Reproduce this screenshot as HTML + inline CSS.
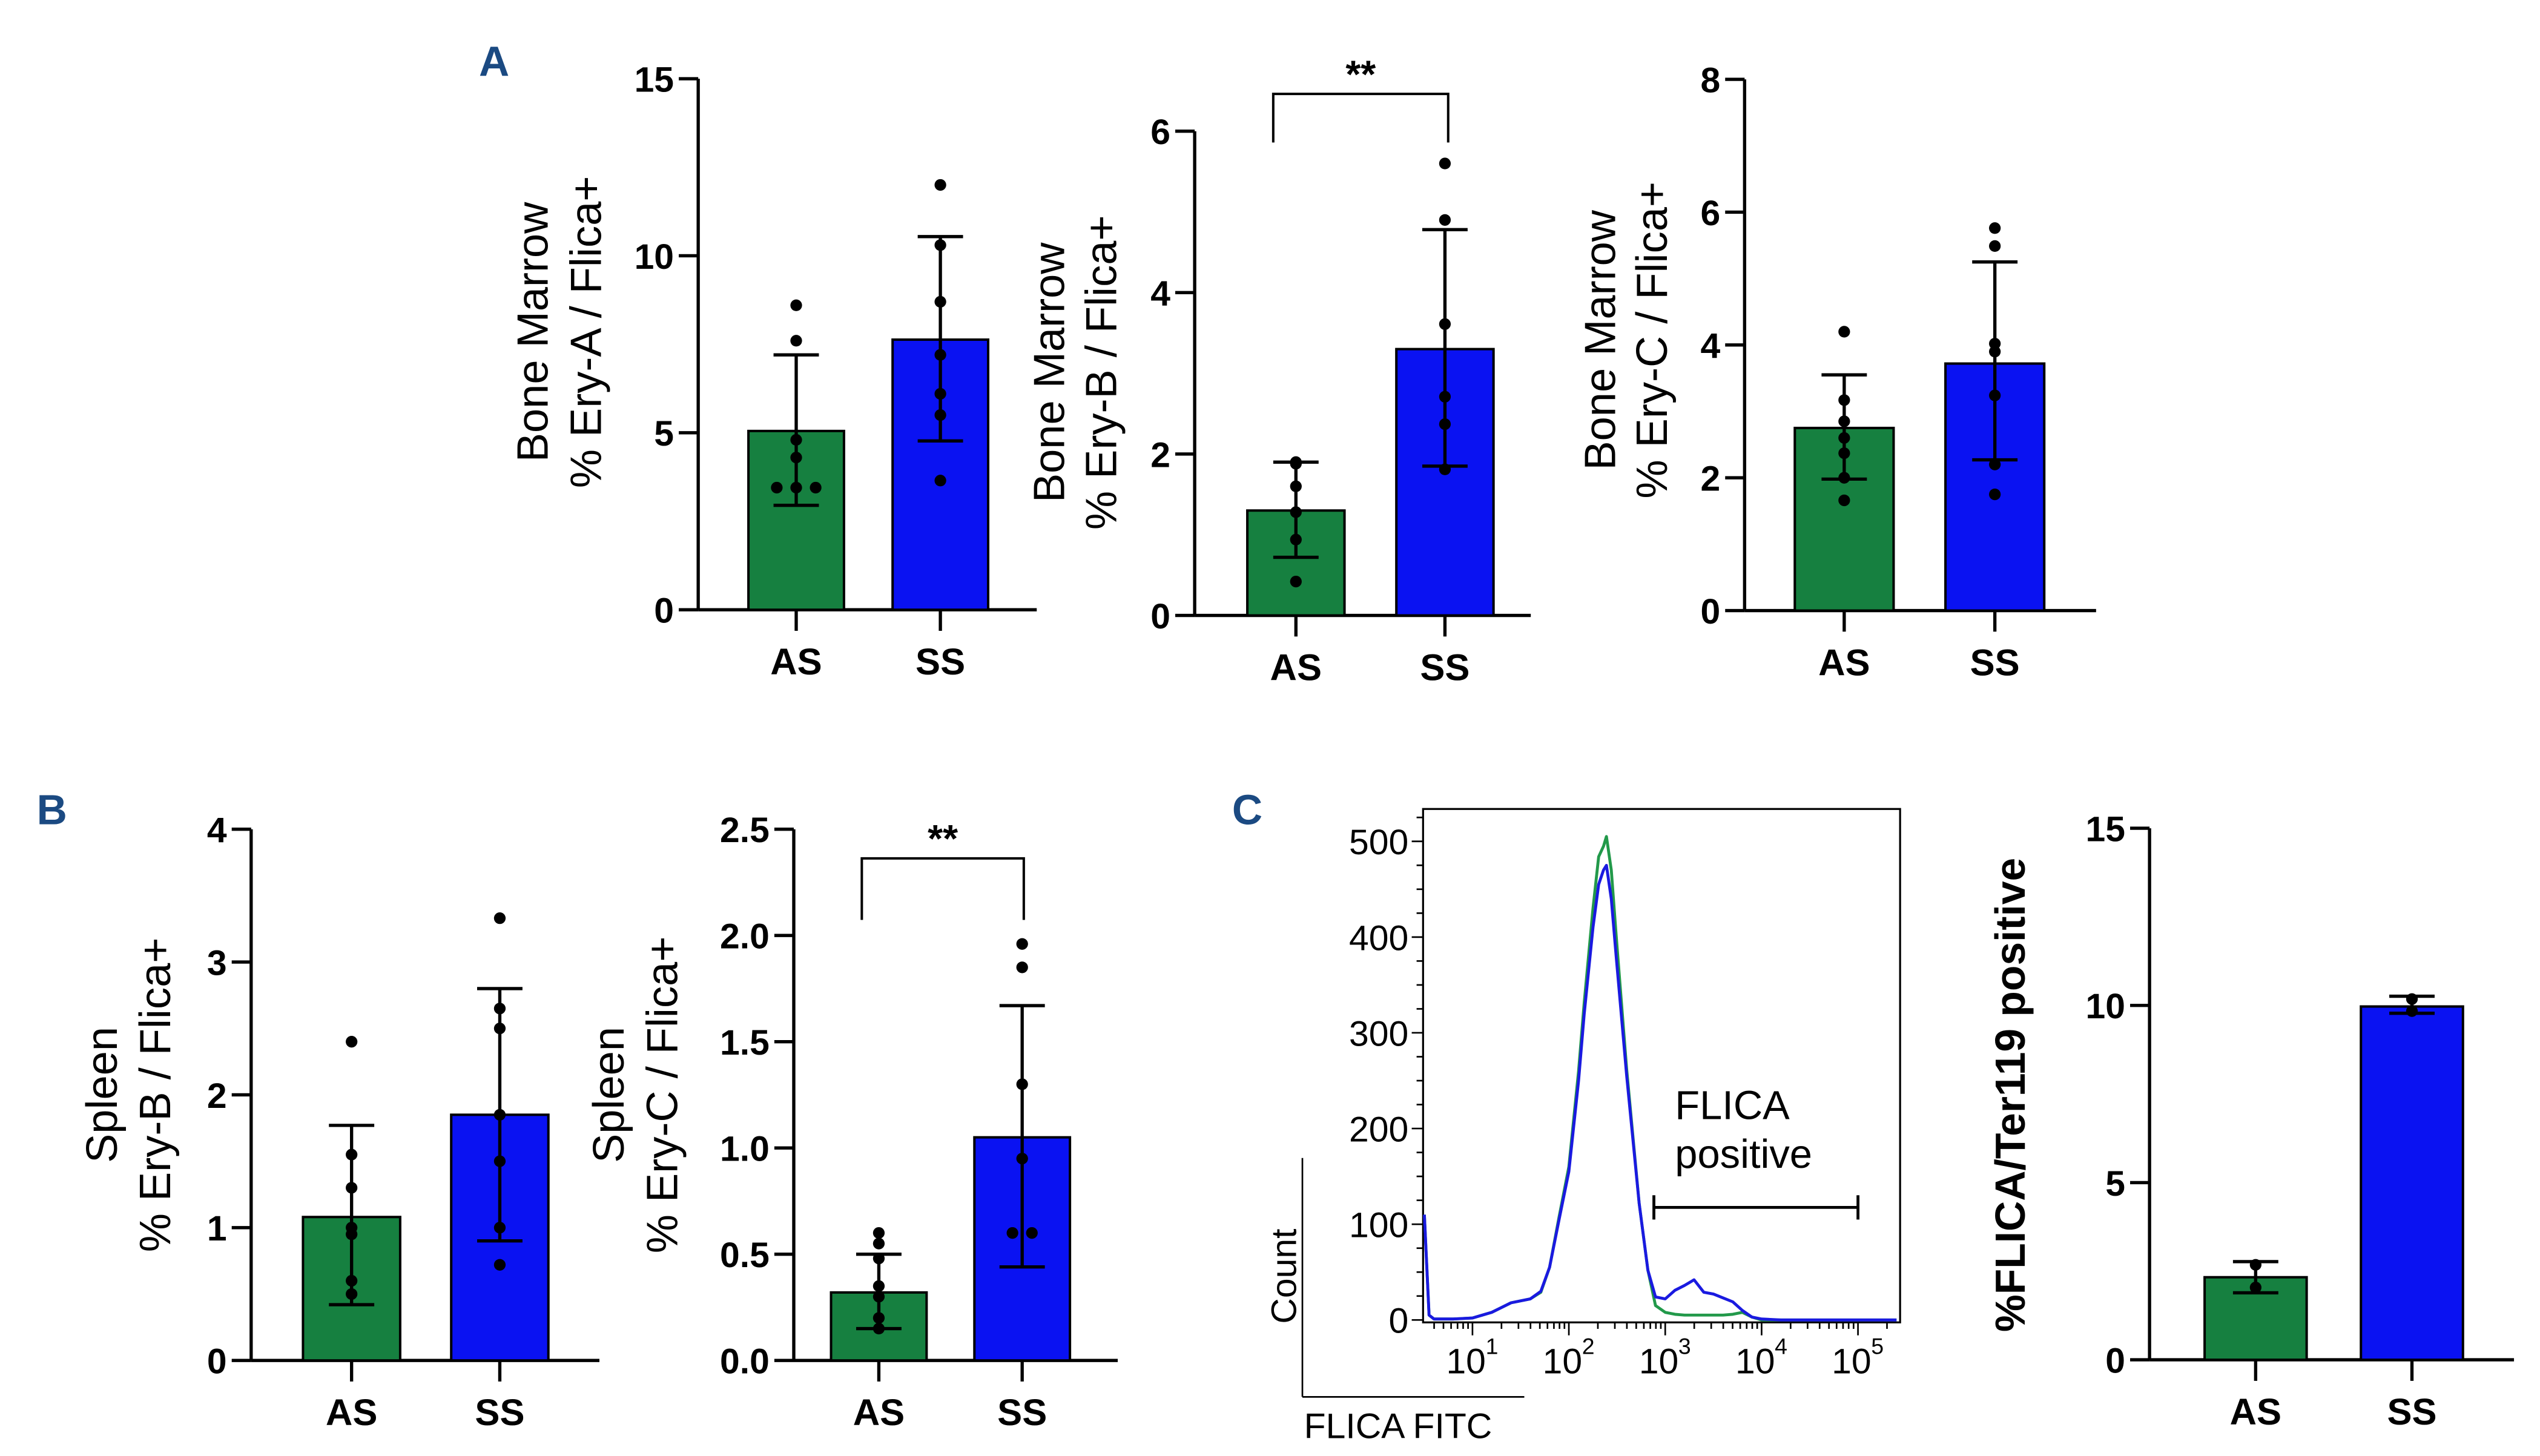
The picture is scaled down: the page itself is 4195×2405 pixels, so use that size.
<!DOCTYPE html>
<html><head><meta charset="utf-8"><style>
html,body{margin:0;padding:0;background:#fff;}
svg{display:block;}
text{font-family:"Liberation Sans",Arial,sans-serif;}
</style></head><body>
<svg id="fig" width="4195" height="2405" viewBox="0 0 1568 899" xmlns="http://www.w3.org/2000/svg">
<rect width="1568" height="899" fill="#fff"/>
<text x="305" y="47" font-size="26" font-weight="bold" fill="#1b4a82" text-anchor="middle">A</text>
<text x="32" y="509" font-size="26" font-weight="bold" fill="#1b4a82" text-anchor="middle">B</text>
<text x="770" y="509" font-size="26" font-weight="bold" fill="#1b4a82" text-anchor="middle">C</text>
<g id="charts"></g>
</svg>
<script>
// ---- data ----
const categories = ["AS","SS"];
// A1 Ery-A
const a1Means = [5.05, 7.63];
const a1ErrHi = [7.2, 10.54];
const a1ErrLo = [2.95, 4.77];
const a1DotsAS = [8.6, 7.6, 4.8, 4.3, 3.45, 3.45, 3.45];
const a1DotsSS = [12.0, 10.3, 8.7, 7.2, 6.1, 5.5, 3.65];
const a1Ticks = ["0","5","10","15"];
// A2 Ery-B
const a2Means = [1.3, 3.3];
const a2ErrHi = [1.9, 4.78];
const a2ErrLo = [0.72, 1.85];
const a2DotsAS = [1.9, 1.88, 1.6, 1.28, 0.94, 0.42];
const a2DotsSS = [5.6, 4.9, 3.61, 2.71, 2.37, 1.81];
const a2Ticks = ["0","2","4","6"];
// A3 Ery-C
const a3Means = [2.75, 3.72];
const a3ErrHi = [3.55, 5.25];
const a3ErrLo = [1.98, 2.27];
const a3DotsAS = [4.2, 3.17, 2.85, 2.6, 2.37, 2.0, 1.66];
const a3DotsSS = [5.76, 5.49, 4.02, 3.9, 3.24, 2.2, 1.75];
const a3Ticks = ["0","2","4","6","8"];
// B1 Spleen Ery-B
const b1Means = [1.08, 1.85];
const b1ErrHi = [1.77, 2.8];
const b1ErrLo = [0.42, 0.9];
const b1DotsAS = [2.4, 1.55, 1.3, 1.0, 0.95, 0.6, 0.5];
const b1DotsSS = [3.33, 2.65, 2.5, 1.85, 1.5, 1.0, 0.72];
const b1Ticks = ["0","1","2","3","4"];
// B2 Spleen Ery-C
const b2Means = [0.32, 1.05];
const b2ErrHi = [0.5, 1.67];
const b2ErrLo = [0.15, 0.44];
const b2DotsAS = [0.6, 0.55, 0.48, 0.35, 0.3, 0.2, 0.15];
const b2DotsSS = [1.96, 1.85, 1.3, 0.95, 0.6, 0.6];
const b2Ticks = ["0.0","0.5","1.0","1.5","2.0","2.5"];
// C bar
const cMeans = [2.33, 9.97];
const cErrHi = [2.77, 10.26];
const cErrLo = [1.89, 9.78];
const cDotsAS = [2.68, 2.04];
const cDotsSS = [10.18, 9.84];
const cTicks = ["0","5","10","15"];
// C histogram (log10 FITC, count)
const histLog = [0.5,0.55,0.6,0.8,1.0,1.2,1.4,1.6,1.71,1.8,1.9,2.0,2.1,2.16,2.25,2.31,2.36,2.39,2.44,2.49,2.6,2.73,2.82,2.9,3.0,3.1,3.2,3.3,3.4,3.5,3.6,3.7,3.8,3.9,4.0,4.2,4.6,5.0,5.4];
const greenCounts = [110,5,1,1,2,8,18,22,29,55,108,160,260,332,430,484,495,505,470,402,262,122,52,15,8,6,5,5,5,5,5,6,8,3,0,0,0,0,0];
const blueCounts  = [110,5,1,1,2,8,18,22,30,55,105,155,250,320,410,455,470,475,440,380,255,122,52,24,22,31,36,42,29,27,23,19,10,3,1,0,0,0,0];
const histYTicks = ["0","100","200","300","400","500"];
const histXExp = [1,2,3,4,5];

const NS="http://www.w3.org/2000/svg";
const root=document.getElementById('charts');
function el(tag,attrs,parent){const e=document.createElementNS(NS,tag);for(const k in attrs)e.setAttribute(k,attrs[k]);(parent||root).appendChild(e);return e;}
const GREEN="#168040", BLUE="#0a12f2";

function barChart(name,o){
  const g=el('g',{});
  
  
  const ymax=parseFloat(o.ticks[o.ticks.length-1]);
  const y=v=>o.y0-(o.y0-o.yTop)*v/ymax;
  const ax=el('line',{x1:o.ax,y1:o.yTop,x2:o.ax,y2:o.y0,stroke:'#000','stroke-width':2},g);
  
  
  const xa=el('line',{x1:o.ax,y1:o.y0,x2:o.axEnd,y2:o.y0,stroke:'#000','stroke-width':2},g);
  
  
  o.ticks.forEach(t=>{
    const v=parseFloat(t),yy=y(v);
    el('line',{x1:o.ax-12,y1:yy,x2:o.ax,y2:yy,stroke:'#000','stroke-width':2},g);
    const tx=el('text',{x:o.ax-15,y:yy+8,'font-size':22,'font-weight':'bold','text-anchor':'end'},g);
    tx.textContent=t;
    
    
  });
  const colors=[GREEN,BLUE];
  const dots=[o.dotsAS,o.dotsSS];
  categories.forEach((c,i)=>{
    const cx=o.cx[i];
    el('line',{x1:cx,y1:o.y0,x2:cx,y2:o.y0+13,stroke:'#000','stroke-width':2},g);
    const lab=el('text',{x:cx,y:o.y0+40,'font-size':23,'font-weight':'bold','text-anchor':'middle'},g);
    lab.textContent=c;
    
    
    const b=el('rect',{x:cx-o.bw/2,y:y(o.means[i]),width:o.bw,height:o.y0-y(o.means[i]),fill:colors[i],stroke:'#000','stroke-width':1.5},g);
    
    
    const eb=el('g',{},g);
    
    
    el('line',{x1:cx,y1:y(o.hi[i]),x2:cx,y2:y(o.lo[i]),stroke:'#000','stroke-width':2},eb);
    el('line',{x1:cx-14,y1:y(o.hi[i]),x2:cx+14,y2:y(o.hi[i]),stroke:'#000','stroke-width':2},eb);
    el('line',{x1:cx-14,y1:y(o.lo[i]),x2:cx+14,y2:y(o.lo[i]),stroke:'#000','stroke-width':2},eb);
    const ds=dots[i]; const seen={};
    ds.forEach(v=>{
      const k=v.toFixed(2); seen[k]=(seen[k]||0)+1;
      const n=ds.filter(w=>w.toFixed(2)===k).length;
      const off=n>1?(seen[k]-1-(n-1)/2)*12:0;
      const d=el('circle',{cx:cx+off,cy:y(v),r:3.6,fill:'#000'},g);
      
      
    });
  });
  if(o.sig){
    const s=el('g',{},g);
    
    
    el('polyline',{points:`${o.sig[0]},${o.sig[3]} ${o.sig[0]},${o.sig[2]} ${o.sig[1]},${o.sig[2]} ${o.sig[1]},${o.sig[3]}`,fill:'none',stroke:'#000','stroke-width':1.5},s);
    const st=el('text',{x:(o.sig[0]+o.sig[1])/2,y:o.sig[2]-4,'font-size':24,'font-weight':'bold','text-anchor':'middle'},s);
    st.textContent='**';
  }
  const lg=el('g',{transform:`rotate(-90)`},g);
  
  
  o.labels.forEach((L,j)=>{
    const t=el('text',{x:-o.labY,y:o.labX[j]+10,'font-size':o.labSize||27,'font-weight':o.labBold?'bold':'normal','text-anchor':'middle'},lg);
    t.textContent=L;
  });
}

barChart('chart-bm-ery-a',{ax:431,axEnd:640,y0:376.5,yTop:48.6,cx:[491.5,580.5],bw:59,ticks:a1Ticks,means:a1Means,hi:a1ErrHi,lo:a1ErrLo,dotsAS:a1DotsAS,dotsSS:a1DotsSS,labels:["Bone Marrow","% Ery-A / Flica+"],labX:[328,361],labY:205});
barChart('chart-bm-ery-b',{ax:737.5,axEnd:945,y0:380,yTop:81,cx:[800,892],bw:60,ticks:a2Ticks,means:a2Means,hi:a2ErrHi,lo:a2ErrLo,dotsAS:a2DotsAS,dotsSS:a2DotsSS,sig:[786,894,58,88],labels:["Bone Marrow","% Ery-B / Flica+"],labX:[647,679],labY:230});
barChart('chart-bm-ery-c',{ax:1077,axEnd:1294,y0:377,yTop:49,cx:[1138.5,1231.5],bw:61,ticks:a3Ticks,means:a3Means,hi:a3ErrHi,lo:a3ErrLo,dotsAS:a3DotsAS,dotsSS:a3DotsSS,labels:["Bone Marrow","% Ery-C / Flica+"],labX:[987,1019],labY:210});
barChart('chart-spleen-ery-b',{ax:155,axEnd:370,y0:840,yTop:512,cx:[217,308.5],bw:60,ticks:b1Ticks,means:b1Means,hi:b1ErrHi,lo:b1ErrLo,dotsAS:b1DotsAS,dotsSS:b1DotsSS,labels:["Spleen","% Ery-B / Flica+"],labX:[62,95],labY:676});
barChart('chart-spleen-ery-c',{ax:490,axEnd:690,y0:840,yTop:512,cx:[542.5,631],bw:59,ticks:b2Ticks,means:b2Means,hi:b2ErrHi,lo:b2ErrLo,dotsAS:b2DotsAS,dotsSS:b2DotsSS,sig:[532,632,530,568],labels:["Spleen","% Ery-C / Flica+"],labX:[375,408],labY:676});
barChart('chart-flica-ter119',{ax:1327,axEnd:1552,y0:839.6,yTop:511.4,cx:[1392.5,1489],bw:63,ticks:cTicks,means:cMeans,hi:cErrHi,lo:cErrLo,dotsAS:cDotsAS,dotsSS:cDotsSS,labels:["%FLICA/Ter119 positive"],labX:[1240],labY:676,labSize:26,labBold:true});

// ---- histogram ----
(function(){
  const g=el('g',{});
  
  
  const L=878.5,R=1173,T=499.5,B=816.5;
  const y0=815,yPer100=59.1;
  const yS=c=>y0-c*yPer100/100;
  const dec0=968.5,decW=59.5;
  const xS=lg=>dec0+(lg-2)*decW;
  const fr=el('rect',{x:L,y:T,width:R-L,height:B-T,fill:'none',stroke:'#000','stroke-width':1.2},g);
  
  
  for(let c=0;c<=525;c+=25){
    const major=c%100===0;
    el('line',{x1:L-(major?7:4),y1:yS(c),x2:L,y2:yS(c),stroke:'#000','stroke-width':1},g);
  }
  histYTicks.forEach(t=>{
    const tx=el('text',{x:L-9,y:yS(+t)+8,'font-size':22,'text-anchor':'end'},g);
    tx.textContent=t;
    
    
  });
  for(let d=0;d<6;d++){for(let m=1;m<10;m++){
    const lg=d+Math.log10(m); const xx=xS(lg);
    if(xx<L||xx>R)continue;
    el('line',{x1:xx,y1:B,x2:xx,y2:B+(m===1?8:4),stroke:'#000','stroke-width':1},g);
  }}
  histXExp.forEach(e=>{
    const t=el('text',{x:xS(e)-4,y:848,'font-size':22,'text-anchor':'middle'},g);
    t.textContent='10';
    
    
    const s=el('text',{x:xS(e)+12,y:836,'font-size':14,'text-anchor':'middle'},g);
    s.textContent=String(e);
  });
  function curve(counts,color,name){
    const pts=histLog.map((lg,i)=>`${xS(lg).toFixed(1)},${yS(counts[i]).toFixed(1)}`).join(' ');
    const p=el('polyline',{points:pts,fill:'none',stroke:color,'stroke-width':1.8,'stroke-linejoin':'round'},g);
    
    
  }
  curve(greenCounts,'#22994a','histogram-as');
  curve(blueCounts,'#1a1ae0','histogram-ss');
  const gate=el('g',{},g);
  
  
  el('line',{x1:1021,y1:745.5,x2:1147,y2:745.5,stroke:'#000','stroke-width':1.8},gate);
  el('line',{x1:1021,y1:738,x2:1021,y2:753,stroke:'#000','stroke-width':1.8},gate);
  el('line',{x1:1147,y1:738,x2:1147,y2:753,stroke:'#000','stroke-width':1.8},gate);
  const t1=el('text',{x:1034,y:691,'font-size':25},g);
  t1.textContent='FLICA';
  
  
  const t2=el('text',{x:1034,y:721,'font-size':25},g);
  t2.textContent='positive';
  el('line',{x1:804,y1:715,x2:804,y2:862.5,stroke:'#000','stroke-width':1},g);
  el('line',{x1:804,y1:862.5,x2:941,y2:862.5,stroke:'#000','stroke-width':1},g);
  const cl=el('text',{x:-788,y:800,'font-size':22,transform:'rotate(-90)','text-anchor':'middle'},g);
  cl.textContent='Count';
  
  
  const fl=el('text',{x:805,y:888,'font-size':22},g);
  fl.textContent='FLICA FITC';
  
  
})();
</script>
</body></html>
